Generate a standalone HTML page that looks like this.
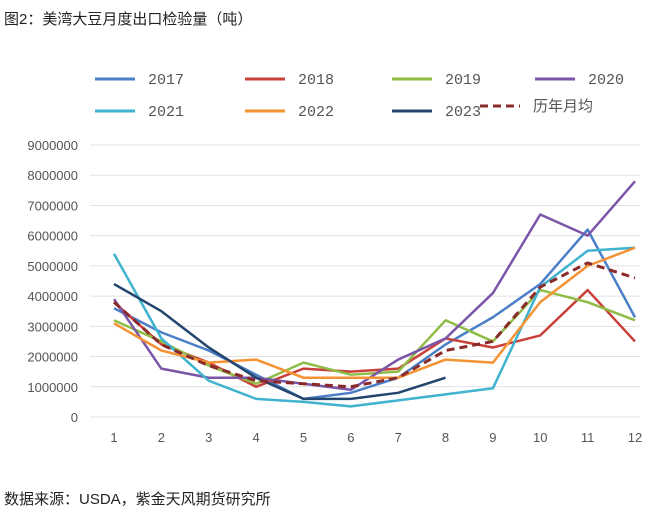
<!DOCTYPE html>
<html><head><meta charset="utf-8"><style>
body{margin:0;background:#fff;font-family:"Liberation Sans","Noto Sans CJK SC",sans-serif;}
</style></head><body>
<svg width="663" height="511" viewBox="0 0 663 511" xmlns="http://www.w3.org/2000/svg">
<text x="4" y="24" font-size="15" fill="#222" font-family="Liberation Sans, Noto Sans CJK SC, sans-serif">图2：美湾大豆月度出口检验量（吨）</text>
<text x="4" y="504" font-size="15" fill="#222" font-family="Liberation Sans, Noto Sans CJK SC, sans-serif">数据来源：USDA，紫金天风期货研究所</text>
<g id="grid"></g>
<g id="ylab"></g>
<g id="xlab"></g>
<g id="series"></g>
<g id="legend"></g>
</svg>
<script>
const months=[1,2,3,4,5,6,7,8,9,10,11,12];
const yTicks=[0,1000000,2000000,3000000,4000000,5000000,6000000,7000000,8000000,9000000];
const s2017=[3.6,2.8,2.2,1.4,0.6,0.8,1.3,2.4,3.3,4.4,6.2,3.3];
const s2018=[3.8,2.4,1.8,1.0,1.6,1.5,1.6,2.6,2.3,2.7,4.2,2.5];
const s2019=[3.2,2.5,1.7,1.1,1.8,1.4,1.5,3.2,2.5,4.2,3.8,3.2];
const s2020=[3.9,1.6,1.3,1.3,1.1,0.9,1.9,2.6,4.1,6.7,6.0,7.8];
const s2021=[5.4,2.6,1.2,0.6,0.5,0.35,0.55,0.75,0.95,4.3,5.5,5.6];
const s2022=[3.1,2.2,1.8,1.9,1.3,1.3,1.3,1.9,1.8,3.8,5.0,5.6];
const s2023=[4.4,3.5,2.3,1.3,0.6,0.6,0.8,1.3];
const sAvg=[3.8,2.4,1.7,1.2,1.1,1.0,1.3,2.2,2.5,4.3,5.1,4.6];
const names=["2017","2018","2019","2020","2021","2022","2023","历年月均"];
const colors=["#4a7fc8","#c9403a","#8fbc45","#7b56a8","#3fb3cf","#f59233","#23466e","#8b2a2a"];
const all=[s2017,s2018,s2019,s2020,s2021,s2022,s2023,sAvg];
const NS="http://www.w3.org/2000/svg";
const x=m=>114+(m-1)*(635-114)/11;
const y=v=>417-v*(417-145)/9000000;
function mk(t,a,p){const e=document.createElementNS(NS,t);for(const k in a)e.setAttribute(k,a[k]);p.appendChild(e);return e;}
const g=document.getElementById('grid'),yl=document.getElementById('ylab'),xl=document.getElementById('xlab'),sg=document.getElementById('series'),lg=document.getElementById('legend');
yTicks.forEach(t=>{
 const l=mk('line',{x1:90,x2:640,y1:y(t),y2:y(t),stroke:'#e2e2e2','stroke-width':1},g);
 
 
 const tx=mk('text',{x:78,y:y(t)+5,'text-anchor':'end','font-size':13,fill:'#555'},yl);tx.textContent=t;
 
 
});
months.forEach(m=>{
 const tx=mk('text',{x:x(m),y:442,'text-anchor':'middle','font-size':13,fill:'#555'},xl);tx.textContent=m;
 
 
});
all.forEach((s,i)=>{
 const pts=s.map((v,j)=>x(months[j])+','+y(v*1000000)).join(' ');
 const p=mk('polyline',{points:pts,fill:'none',stroke:colors[i],'stroke-width':i==7?3:2.5,'stroke-linejoin':'round'},sg);
 if(i==7)p.setAttribute('stroke-dasharray','8,5');
 
 
});
const lx=[95,245,392,535,95,245,392,480],ly=[79,79,79,79,111,111,111,106];
names.forEach((n,i)=>{
 const l=mk('line',{x1:lx[i],x2:lx[i]+40,y1:ly[i],y2:ly[i],stroke:colors[i],'stroke-width':3},lg);
 if(i==7)l.setAttribute('stroke-dasharray','8,5');
 
 
 const t=mk('text',{x:lx[i]+53,y:ly[i]+5,'font-size':15,fill:'#555','font-family':'Liberation Mono, Noto Sans CJK SC, monospace'},lg);t.textContent=n;
 
 
});
</script>
</body></html>
